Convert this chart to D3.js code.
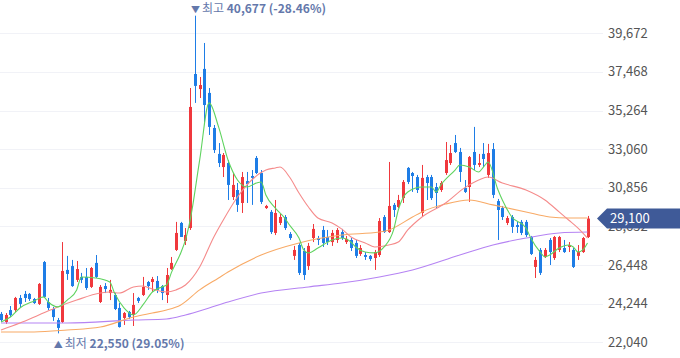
<!DOCTYPE html>
<html><head><meta charset="utf-8">
<script src="https://cdn.jsdelivr.net/npm/d3@7"></script>
<style>html,body{margin:0;padding:0;background:#fff;} svg{display:block;}</style>
</head><body>
<svg id="c" width="680" height="358"></svg>
<script>
// [open, high, low, close]
const ohlc = [
[23660,23770,23200,23310],[23200,23710,23090,23600],[23880,24110,23480,23600],[23880,24630,23770,24570],
[24570,24740,24000,24230],[24800,24970,24340,24570],[24800,24850,24400,24510],[24510,24570,24230,24280],
[24230,25420,24170,25370],[26620,26680,24580,24630],[24340,24570,23880,24000],[23940,24060,23260,23480],
[23310,23430,22550,22860],[23200,27760,23140,26110],[26170,26970,25600,25940],[26390,26740,25200,25250],
[25600,26680,25480,26220],[25770,26000,25420,25600],[25770,26280,25030,25140],[25200,26340,25140,26280],
[26570,27020,25710,25770],[24340,25310,24280,25200],[25250,25420,24850,25080],[24850,25600,24450,25030],
[24740,24850,23880,23940],[24000,24280,22880,22910],[23430,23770,23030,23710],[23770,23830,23370,23480],
[23600,24850,22970,24170],[24570,24630,24280,24400],[24740,25770,24680,25200],[25480,25540,25030,25250],
[25480,25770,24910,25650],[25540,25820,24850,25030],[25250,25310,24450,24850],[24740,26280,24280,25880],
[26220,26910,26170,26570],[27310,28910,27250,28280],[28850,28910,28050,28050],[27820,28560,27590,28160],
[28560,36550,28450,35470],[37350,40677,35700,36670],[36490,37180,35980,36720],[37640,39120,34610,35580],
[36270,36550,33870,34330],[34270,34440,32840,33010],[32790,33410,32040,32270],[32040,32840,31470,32730],
[32270,32440,30160,31020],[30330,31700,30160,31020],[30730,31130,29480,29880],[29990,31760,29420,31470],
[31240,31760,29990,31070],[31530,31870,29880,31420],[32560,32670,31640,31700],[31700,31870,29930,30050],
[29700,29880,29650,29820],[29480,29590,28220,28330],[28280,30160,28160,29420],[28850,29360,28730,29190],
[29190,29300,28450,28560],[28220,28330,27880,27990],[26970,27540,26740,27310],[27590,27710,25880,26000],
[27250,27420,25600,25880],[26390,27710,26170,27540],[27990,28790,27760,28510],[27990,28110,27590,27880],
[28450,28680,27480,27710],[28050,28450,27590,27760],[27760,28450,27540,28280],[27880,28560,27710,28450],
[28330,28510,27880,27990],[27760,28110,27650,27940],[27880,27990,27250,27420],[27710,27880,26850,26970],
[27080,27590,26970,27420],[27020,27190,26740,26910],[26970,27020,26680,26790],[26850,27310,26170,27190],
[27020,29130,26910,28960],[29190,29300,28280,28330],[28330,32330,28280,29820],[29880,29990,29190,29590],
[29760,30450,29700,30160],[30270,31300,29990,31190],[31990,32040,31070,31190],[31700,31760,30620,31530],
[31470,31590,30560,30730],[29420,32160,29190,31420],[31470,31590,30160,31130],[31470,31590,30160,30270],
[30900,31130,29700,30560],[30730,31240,30620,31130],[31700,33470,31590,32440],[32270,33300,32160,32840],
[33410,33870,32840,32900],[32900,33130,31190,31760],[30850,31300,30560,30620],[30900,32670,30050,32610],
[32900,34330,31870,32160],[32160,32790,32040,32270],[32790,33410,32040,32500],[31590,33360,31420,32840],
[33070,33410,30270,30450],[30100,30220,27880,29590],[29700,29820,29020,29190],[28850,29250,28730,29130],
[29190,29300,28280,28620],[28730,28910,28280,28620],[28910,29020,28160,28280],[28910,29020,28050,28160],
[28050,28110,27020,27080],[26340,26910,25710,26740],[27310,27420,25880,26000],[26910,27420,26850,27310],
[27880,27990,26450,27190],[26850,28110,26740,28050],[27310,28110,27190,28050],[27420,27880,27140,27190],
[27480,27760,27190,27590],[27310,27420,26280,26340],[26970,27590,26740,27190],[27190,28050,27140,27990],
[28050,29250,27990,29100]
];

// moving averages: [candle index, price]
const ma5 = [[0,23200],[2,23480],[4,24000],[7,24400],[9,24630],[10,24340],[12,24060],[14,24450],[16,25030],[17,25770],[20,25710],[23,25480],[24,24850],[26,24000],[28,23600],[30,24170],[32,24910],[34,25200],[35,25310],[36,26000],[38,27140],[39,27880],[40,29020],[42,32440],[44,35700],[46,34330],[48,32440],[50,31300],[52,30900],[54,31130],[55,31190],[56,30450],[58,29700],[60,29130],[61,28730],[63,27990],[64,27310],[65,27140],[67,27420],[70,27880],[72,27990],[74,27760],[75,27480],[77,27190],[79,27140],[81,27480],[83,28450],[84,29590],[86,30620],[89,30900],[91,30900],[92,30620],[93,31020],[96,31870],[97,32160],[99,32040],[101,31760],[102,32040],[103,32330],[105,30790],[106,30160],[108,29190],[111,28560],[112,27990],[114,27190],[115,26910],[116,27020],[118,27420],[120,27590],[121,27480],[122,27190],[123,27310],[124,27710]];
const ma20 = [[0,22740],[4,23140],[8,23600],[12,24060],[16,24450],[21,24850],[23,24910],[25,24850],[28,25200],[30,25250],[32,25080],[35,24910],[37,25030],[39,25310],[42,26340],[45,28050],[47,29020],[50,30330],[53,31300],[56,31870],[58,31990],[59,32040],[61,31470],[63,30560],[65,29760],[67,29130],[70,28850],[72,28510],[74,28050],[77,27710],[79,27480],[82,27590],[84,27760],[86,28450],[89,29190],[94,29990],[98,30850],[101,31300],[103,31470],[106,31130],[111,30730],[115,30160],[118,29480],[120,29020],[122,28560],[124,27990]];
const ma60 = [[0,22630],[7,22630],[14,22740],[21,22910],[28,23480],[32,23710],[35,23880],[38,24170],[42,25030],[46,25710],[48,26050],[55,27020],[63,27710],[72,28160],[80,28330],[82,28450],[87,29190],[89,29480],[94,29930],[99,30160],[104,29880],[111,29480],[116,29190],[120,29130],[124,29130]];
const ma120 = [[0,23140],[14,23140],[28,23310],[35,23370],[39,23600],[44,24000],[48,24340],[55,24850],[65,25200],[72,25420],[80,25770],[87,26170],[97,27020],[104,27590],[111,27990],[118,28280],[124,28330]];

const yTicks = [22040,24244,26448,28652,30856,33060,35264,37468,39672];
const highInfo = {idx:41, label:"최고", value:"40,677", pct:"(-28.46%)"};
const lowInfo = {idx:12, label:"최저", value:"22,550", pct:"(29.05%)"};
const lastPrice = 29100;

const svg = d3.select('#c');
const x = d3.scaleLinear().domain([0, ohlc.length-1]).range([1, 587.5]);
const y = d3.scaleLinear().domain([22040, 39672]).range([342.3, 33.3]);
const FONT = '"Noto Sans CJK KR","Noto Sans",sans-serif';

// grid
svg.append('g').selectAll('line').data(yTicks).join('line')
  .attr('x1',0).attr('x2',603)
  .attr('y1',d=>Math.round(y(d))+0.5).attr('y2',d=>Math.round(y(d))+0.5)
  .attr('stroke','#f1f2f7').attr('stroke-width',1);

// axis labels
const fmt = d3.format(',');
svg.append('g').selectAll('text').data(yTicks).join('text')
  .attr('x',608).attr('y',d=>y(d)).attr('dy','0.35em')
  .attr('font-family',FONT).attr('font-size',13).attr('fill','#555')
  .text(d=>fmt(d));

// candles
const UP='#f0383d', DOWN='#1e7de6';
const cg = svg.append('g');
cg.selectAll('line').data(ohlc).join('line')
  .attr('x1',(d,i)=>Math.round(x(i))+0.5).attr('x2',(d,i)=>Math.round(x(i))+0.5)
  .attr('y1',d=>y(d[1])).attr('y2',d=>y(d[2]))
  .attr('stroke',d=>d[3]>=d[0]?UP:DOWN).attr('stroke-width',1);
cg.selectAll('rect').data(ohlc).join('rect')
  .attr('x',(d,i)=>Math.round(x(i))-1).attr('width',3)
  .attr('y',d=>y(Math.max(d[0],d[3])))
  .attr('height',d=>Math.max(1,Math.abs(y(d[0])-y(d[3]))))
  .attr('fill',d=>d[3]>=d[0]?UP:DOWN);

// moving averages
const line = d3.line().x(d=>x(d[0])).y(d=>y(d[1])).curve(d3.curveMonotoneX);
[[ma120,'#b583f3'],[ma60,'#f8aa66'],[ma20,'#f58b8b'],[ma5,'#5fd35f']].forEach(([data,col])=>{
  svg.append('path').datum(data).attr('d',line).attr('fill','none')
    .attr('stroke',col).attr('stroke-width',1.1);
});

// high / low annotations
function note(info, yy, tri){
  const t = svg.append('text').attr('x', x(info.idx)-4).attr('y', yy)
    .attr('font-family',FONT).attr('font-size',12).attr('fill','#6478ab');
  t.append('tspan').attr('font-size',9).text(tri+' ');
  t.append('tspan').text(info.label+' ');
  t.append('tspan').attr('font-weight','bold').text(info.value+' '+info.pct);
}
note(highInfo, 13, '▼');
note(lowInfo, 348, '▲');

// last price tag
const ty = y(lastPrice);
svg.append('path')
  .attr('d',`M597,${ty} L607,${ty-10} L680,${ty-10} L680,${ty+10} L607,${ty+10} Z`)
  .attr('fill','#3f5a98');
svg.append('text').attr('x',610).attr('y',ty).attr('dy','0.35em')
  .attr('font-family',FONT).attr('font-size',13).attr('fill','#fff').text(fmt(lastPrice));
</script>
</body></html>
